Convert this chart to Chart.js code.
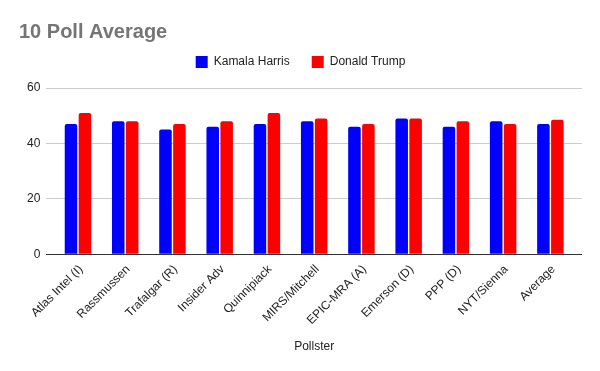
<!DOCTYPE html>
<html><head><meta charset="utf-8">
<script src="https://cdn.jsdelivr.net/npm/chart.js@4/dist/chart.umd.min.js"></script>
<style>html,body{margin:0;padding:0;background:#fff}#wrap{width:600px;height:371px}</style>
</head><body><div id="wrap"><canvas id="c"></canvas></div>
<script>
const categories = ["Atlas Intel (I)","Rassmussen","Trafalgar (R)","Insider Adv","Quinnipiack","MIRS/Mitchell","EPIC-MRA (A)","Emerson (D)","PPP (D)","NYT/Sienna","Average"];
const harris = [47,48,45,46,47,48,46,49,46,48,47];
const trump = [51,48,47,48,51,49,47,49,48,47,48.5];
const yTicks = [0,20,40,60];

const legendSpacer = {
  id: 'legendSpacer',
  beforeInit(chart) {
    const orig = chart.legend.fit;
    chart.legend.fit = function () { orig.bind(chart.legend)(); this.height += 10; };
  }
};
// inset the category axis inside the plot (gridlines span the full width)
const xInset = {
  id: 'xInset',
  afterLayout(chart) {
    const x = chart.scales.x;
    x.left += 8; x.right -= 8; x.width = x.right - x.left;
    x.configure();
  }
};

Chart.defaults.font.family = "'Liberation Sans', Arial, sans-serif";
new Chart(document.getElementById('c'), {
  type: 'bar',
  data: {
    labels: categories,
    datasets: [
      {label: 'Kamala Harris', data: harris, backgroundColor: '#0000ff', borderRadius: {topLeft:2, topRight:2}, borderSkipped: 'bottom', categoryPercentage: 0.59, barPercentage: 0.9},
      {label: 'Donald Trump', data: trump, backgroundColor: '#ff0000', borderRadius: {topLeft:2, topRight:2}, borderSkipped: 'bottom', categoryPercentage: 0.59, barPercentage: 0.9}
    ]
  },
  plugins: [legendSpacer, xInset],
  options: {
    responsive: true, maintainAspectRatio: false, animation: false,
    layout: {padding: {left: 19, right: 18, top: 20, bottom: 13}},
    plugins: {
      title: {display: true, text: '10 Poll Average', align: 'start', color: '#757575', font: {size: 20, weight: 'bold'}, padding: {top: 0, bottom: -10}},
      legend: {display: true, position: 'top', labels: {boxWidth: 12, boxHeight: 12, color: '#222', font: {size: 12}, padding: 22}},
      tooltip: {enabled: false}
    },
    scales: {
      x: {
        grid: {display: false},
        border: {display: false},
        ticks: {color: '#222', font: {size: 12}, maxRotation: 45, minRotation: 45, autoSkip: false, labelOffset: 3, padding: 0},
        title: {display: true, text: 'Pollster', color: '#222', font: {size: 12}, padding: {top: 12}}
      },
      y: {
        min: 0, max: 60,
        afterBuildTicks: s => { s.ticks = yTicks.map(v => ({value: v})); },
        afterFit: s => { s.width += 2; },
        grid: {color: c => (c.tick && c.tick.value === 0 ? '#333333' : '#cccccc'), drawTicks: false},
        border: {display: false},
        ticks: {color: '#222', font: {size: 12}, padding: 6}
      }
    }
  }
});
</script></body></html>
